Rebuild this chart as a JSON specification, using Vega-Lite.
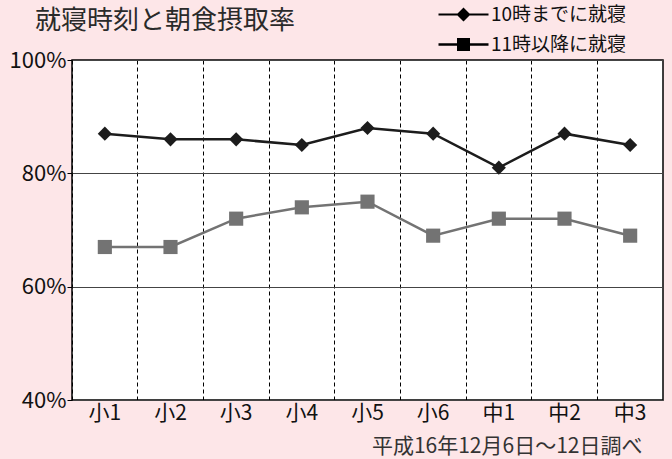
{
  "$schema": "https://vega.github.io/schema/vega-lite/v6.json",
  "width": 591,
  "height": 340,
  "autosize": {"type": "none"},
  "padding": {"left": 72, "top": 60, "right": 9, "bottom": 59},
  "background": "#fde6e8",
  "config": {
    "font": "Noto Sans CJK JP",
    "view": {"stroke": "#000000", "strokeWidth": 1.5, "fill": "#ffffff"}
  },
  "title": {
    "text": "就寝時刻と朝食摂取率",
    "anchor": "start",
    "frame": "group",
    "dx": -37,
    "offset": -29,
    "fontSize": 26,
    "fontWeight": "normal",
    "font": "Noto Sans CJK JP",
    "color": "#2a2a2a"
  },
  "data": {
    "values": [
      {"grade": "小1", "series": "10時までに就寝", "value": 87},
      {"grade": "小2", "series": "10時までに就寝", "value": 86},
      {"grade": "小3", "series": "10時までに就寝", "value": 86},
      {"grade": "小4", "series": "10時までに就寝", "value": 85},
      {"grade": "小5", "series": "10時までに就寝", "value": 88},
      {"grade": "小6", "series": "10時までに就寝", "value": 87},
      {"grade": "中1", "series": "10時までに就寝", "value": 81},
      {"grade": "中2", "series": "10時までに就寝", "value": 87},
      {"grade": "中3", "series": "10時までに就寝", "value": 85},
      {"grade": "小1", "series": "11時以降に就寝", "value": 67},
      {"grade": "小2", "series": "11時以降に就寝", "value": 67},
      {"grade": "小3", "series": "11時以降に就寝", "value": 72},
      {"grade": "小4", "series": "11時以降に就寝", "value": 74},
      {"grade": "小5", "series": "11時以降に就寝", "value": 75},
      {"grade": "小6", "series": "11時以降に就寝", "value": 69},
      {"grade": "中1", "series": "11時以降に就寝", "value": 72},
      {"grade": "中2", "series": "11時以降に就寝", "value": 72},
      {"grade": "中3", "series": "11時以降に就寝", "value": 69}
    ]
  },
  "resolve": {"axis": {"x": "independent"}, "scale": {"shape": "independent"}},
  "layer": [
    {
      "mark": {"type": "line", "strokeWidth": 2.5},
      "encoding": {
        "x": {
          "field": "grade", "type": "nominal",
          "sort": ["小1","小2","小3","小4","小5","小6","中1","中2","中3"],
          "scale": {"type": "band", "paddingInner": 0, "paddingOuter": 0},
          "axis": {
            "title": "平成16年12月6日～12日調べ",
            "titleX": 570, "titleY": 46, "titleAlign": "right", "titleBaseline": "middle",
            "titleFontSize": 21, "titleFontWeight": "normal", "titleColor": "#333333",
            "labelFontSize": 21, "labelColor": "#111111", "labelPadding": 2, "labelAngle": 0,
            "ticks": false, "domain": false, "grid": false
          }
        },
        "y": {
          "field": "value", "type": "quantitative",
          "scale": {"domain": [40, 100], "nice": false, "zero": false},
          "axis": {
            "values": [40, 60, 80, 100],
            "labelExpr": "datum.value + '%'",
            "title": null,
            "grid": true, "gridColor": "#444444", "gridWidth": 1,
            "domain": false,
            "tickColor": "#000000", "tickSize": 5,
            "labelFontSize": 22, "labelColor": "#111111", "labelPadding": 1
          }
        },
        "color": {
          "field": "series", "type": "nominal",
          "scale": {"domain": ["10時までに就寝", "11時以降に就寝"], "range": ["#1c1c1c", "#737373"]},
          "legend": null
        }
      }
    },
    {
      "mark": {"type": "point", "filled": true, "opacity": 1, "size": 200},
      "encoding": {
        "x": {
          "field": "grade", "type": "nominal",
          "sort": ["小1","小2","小3","小4","小5","小6","中1","中2","中3"],
          "scale": {"type": "band", "paddingInner": 0, "paddingOuter": 0},
          "axis": {
            "orient": "top", "bandPosition": 0,
            "grid": true, "gridColor": "#000000", "gridDash": [4, 3], "gridWidth": 1,
            "labels": false, "ticks": false, "domain": false, "title": null
          }
        },
        "y": {
          "field": "value", "type": "quantitative",
          "scale": {"domain": [40, 100], "nice": false, "zero": false},
          "axis": {
            "values": [40, 60, 80, 100],
            "labelExpr": "datum.value + '%'",
            "title": null,
            "grid": true, "gridColor": "#444444", "gridWidth": 1,
            "domain": false,
            "tickColor": "#000000", "tickSize": 5,
            "labelFontSize": 22, "labelColor": "#111111", "labelPadding": 1
          }
        },
        "color": {"field": "series", "type": "nominal", "legend": null},
        "shape": {
          "field": "series", "type": "nominal",
          "scale": {"domain": ["10時までに就寝", "11時以降に就寝"], "range": ["diamond", "square"]},
          "legend": null
        }
      }
    },
    {
      "transform": [{"filter": "false"}],
      "mark": {"type": "point", "filled": true, "opacity": 1, "size": 100},
      "encoding": {
        "x": {
          "field": "grade", "type": "nominal",
          "sort": ["小1","小2","小3","小4","小5","小6","中1","中2","中3"],
          "scale": {"type": "band", "paddingInner": 0, "paddingOuter": 0},
          "axis": null
        },
        "y": {
          "field": "value", "type": "quantitative",
          "scale": {"domain": [40, 100], "nice": false, "zero": false},
          "axis": {
            "values": [40, 60, 80, 100],
            "labelExpr": "datum.value + '%'",
            "title": null,
            "grid": true, "gridColor": "#444444", "gridWidth": 1,
            "domain": false,
            "tickColor": "#000000", "tickSize": 5,
            "labelFontSize": 22, "labelColor": "#111111", "labelPadding": 1
          }
        },
        "color": {
          "field": "series", "type": "nominal",
          "legend": {
            "orient": "none", "legendX": 382, "legendY": -55,
            "title": null, "padding": 0,
            "labelFontSize": 19, "labelColor": "#111111", "labelFont": "Noto Sans CJK JP",
            "labelOffset": 18, "rowPadding": 10,
            "symbolSize": 100, "symbolStrokeWidth": 0, "symbolOpacity": 1
          }
        },
        "shape": {
          "field": "series", "type": "nominal",
          "scale": {
            "domain": ["10時までに就寝", "11時以降に就寝"],
            "range": [
              "M-5,-0.2L5,-0.2L5,0.2L-5,0.2ZM0,-1.4L1.4,0L0,1.4L-1.4,0Z",
              "M-5,-0.25L5,-0.25L5,0.25L-5,0.25ZM-1.3,-1.3L1.3,-1.3L1.3,1.3L-1.3,1.3Z"
            ]
          },
          "legend": {
            "orient": "none", "legendX": 382, "legendY": -55,
            "title": null, "padding": 0,
            "labelFontSize": 19, "labelColor": "#111111", "labelFont": "Noto Sans CJK JP",
            "labelOffset": 18, "rowPadding": 10,
            "symbolSize": 100, "symbolStrokeWidth": 0, "symbolOpacity": 1
          }
        }
      }
    }
  ]
}
